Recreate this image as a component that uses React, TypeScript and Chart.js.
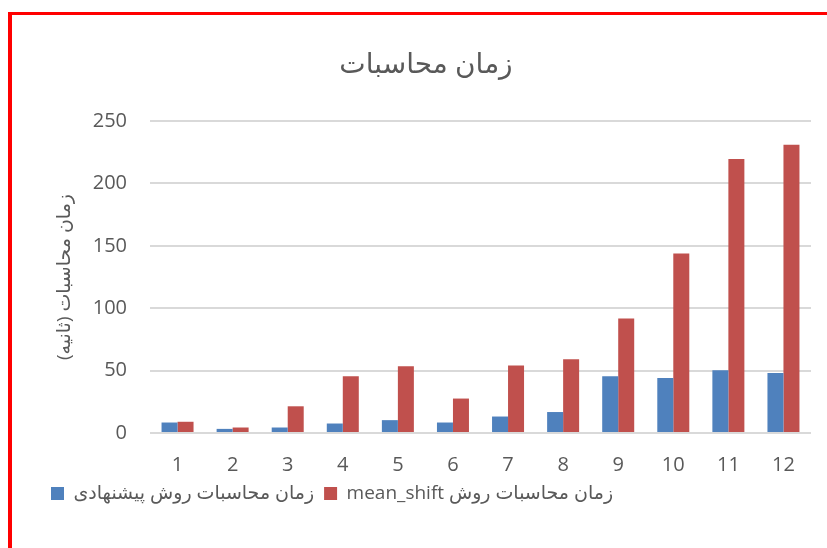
import React, { useEffect, useRef } from "react";
import { Chart, registerables } from "chart.js";

Chart.register(...registerables);

const categories = ["1", "2", "3", "4", "5", "6", "7", "8", "9", "10", "11", "12"];
const proposedLabel = "زمان محاسبات روش پیشنهادی";
const meanShiftLabel = "زمان محاسبات روش mean_shift";
const proposedValues = [8.4, 3.3, 4.4, 7.6, 10.3, 8.4, 13.2, 16.8, 45.4, 44, 50.2, 48];
const meanShiftValues = [9, 4.4, 21.4, 45.4, 53.4, 27.6, 54, 59, 91.8, 143.8, 219.6, 231];
const chartTitle = "زمان محاسبات";
const yAxisTitle = "زمان محاسبات (ثانیه)";
const yMin = 0;
const yMax = 250;
const yStep = 50;

const FONT = '"Open Sans", "DejaVu Sans", sans-serif';
const TEXT = "#595959";

export default function App() {
  const ref = useRef<HTMLCanvasElement | null>(null);

  useEffect(() => {
    if (!ref.current) return;
    const chart = new Chart(ref.current, {
      type: "bar",
      data: {
        labels: categories,
        datasets: [
          {
            label: proposedLabel,
            data: proposedValues,
            backgroundColor: "#4F81BD",
            borderWidth: 0,
            categoryPercentage: 0.581,
            barPercentage: 1,
          },
          {
            label: meanShiftLabel,
            data: meanShiftValues,
            backgroundColor: "#C0504D",
            borderWidth: 0,
            categoryPercentage: 0.581,
            barPercentage: 1,
          },
        ],
      },
      options: {
        animation: false,
        responsive: false,
        maintainAspectRatio: false,
        layout: { padding: { left: 41, right: 16, top: 0, bottom: 35 } },
        plugins: {
          title: {
            display: true,
            text: chartTitle,
            color: TEXT,
            font: { family: FONT, size: 28, weight: "normal" },
            padding: { top: 48, bottom: 39.4 },
          },
          legend: {
            position: "bottom",
            align: "start",
            textDirection: "rtl",
            labels: {
              boxWidth: 13,
              boxHeight: 13,
              padding: 10,
              color: TEXT,
              font: { family: FONT, size: 19 },
            },
          },
          tooltip: { enabled: false },
        },
        scales: {
          x: {
            grid: { display: false, drawTicks: false },
            border: { display: false },
            ticks: {
              color: TEXT,
              font: { family: FONT, size: 20 },
              padding: 20,
              maxRotation: 0,
            },
            afterFit: (s: any) => {
              s.height = 41;
            },
          },
          y: {
            min: yMin,
            max: yMax,
            ticks: {
              stepSize: yStep,
              color: TEXT,
              font: { family: FONT, size: 20 },
              padding: 23,
            },
            grid: { color: "#D9D9D9", lineWidth: 2, drawTicks: false },
            border: { display: false },
            title: {
              display: true,
              text: yAxisTitle,
              color: TEXT,
              font: { family: FONT, size: 19 },
              padding: { top: 12.6, bottom: 0 },
            },
            afterFit: (s: any) => {
              s.width = 109;
            },
          },
        },
      },
    });
    return () => chart.destroy();
  }, []);

  return (
    <div style={{ position: "fixed", left: 0, top: 0, width: 827, height: 548, background: "#fff" }}>
      <canvas ref={ref} width={827} height={548} style={{ display: "block", position: "absolute", left: 0, top: 0 }} />
      <div
        style={{
          position: "absolute",
          left: 8,
          top: 12,
          right: 0,
          bottom: 0,
          borderLeft: "4px solid #FF0000",
          borderTop: "3px solid #FF0000",
          pointerEvents: "none",
        }}
      />
    </div>
  );
}
